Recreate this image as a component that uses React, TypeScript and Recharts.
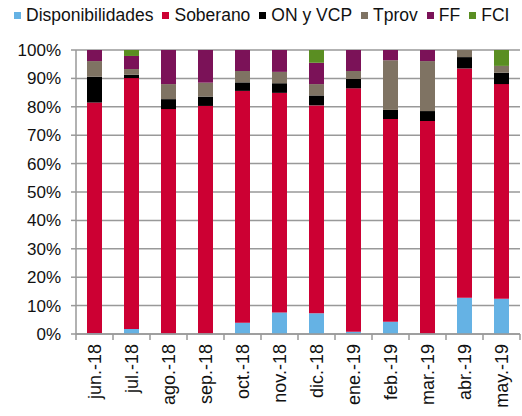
import { BarChart, Bar, XAxis, YAxis, CartesianGrid, Legend } from "recharts";

const categories = ["jun.-18", "jul.-18", "ago.-18", "sep.-18", "oct.-18", "nov.-18", "dic.-18", "ene.-19", "feb.-19", "mar.-19", "abr.-19", "may.-19"];
const disponibilidades = [0.3, 1.8, 0.2, 0.2, 4.0, 7.6, 7.3, 0.8, 4.3, 0.2, 12.8, 12.4];
const soberano = [81.2, 88.3, 79.0, 80.1, 81.6, 77.3, 73.2, 85.7, 71.4, 74.8, 80.7, 75.6];
const onVcp = [9.1, 1.2, 3.5, 3.3, 3.0, 3.4, 3.5, 3.3, 3.2, 3.5, 4.0, 4.0];
const tprov = [5.5, 2.0, 5.3, 4.9, 4.0, 4.0, 4.0, 2.8, 17.5, 17.6, 2.5, 2.4];
const ff = [3.9, 4.6, 12.0, 11.5, 7.4, 7.7, 7.5, 7.4, 3.6, 3.9, 0, 0];
const fci = [0, 2.1, 0, 0, 0, 0, 4.5, 0, 0, 0, 0, 5.6];
const yTicks = [0, 10, 20, 30, 40, 50, 60, 70, 80, 90, 100];

const data = categories.map((name, i) => ({
  name,
  disp: disponibilidades[i],
  sob: soberano[i],
  on: onVcp[i],
  tprov: tprov[i],
  ff: ff[i],
  fci: fci[i],
}));

const series = [
  { key: "disp", name: "Disponibilidades", color: "#65B2E4" },
  { key: "sob", name: "Soberano", color: "#CC0033" },
  { key: "on", name: "ON y VCP", color: "#000000" },
  { key: "tprov", name: "Tprov", color: "#7F7363" },
  { key: "ff", name: "FF", color: "#7B1258" },
  { key: "fci", name: "FCI", color: "#5A8E22" },
];
const seriesOrder = series.map((s) => s.name);

const font = "Arial, 'Liberation Sans', sans-serif";

const XTick = (props: any) => {
  const { x, y, payload, index } = props;
  const off = payload.offset || 0;
  return (
    <g>
      <line x1={x - off} y1={y - 8} x2={x - off} y2={y - 2} stroke="#999" strokeWidth={1.5} />
      {index === categories.length - 1 && (
        <line x1={x + off} y1={y - 8} x2={x + off} y2={y - 2} stroke="#999" strokeWidth={1.5} />
      )}
      <text
        x={0}
        y={0}
        transform={`translate(${x + 6},${y + 2}) rotate(-90)`}
        textAnchor="end"
        fontSize={18}
        fontFamily={font}
        fill="#111"
      >
        {payload.value}
      </text>
    </g>
  );
};

const renderLegend = (props: any) => {
  const items = [...(props.payload || [])].sort(
    (a: any, b: any) => seriesOrder.indexOf(a.value) - seriesOrder.indexOf(b.value)
  );
  return (
    <div style={{ display: "flex", alignItems: "center", fontFamily: font, fontSize: 17.5, lineHeight: "20px", color: "#111" }}>
      {items.map((p: any) => (
        <div key={p.value} style={{ display: "flex", alignItems: "center", marginRight: 9 }}>
          <span style={{ width: 7, height: 7, background: p.color, display: "inline-block", marginRight: 5 }} />
          <span>{p.value}</span>
        </div>
      ))}
    </div>
  );
};

export default function App() {
  return (
    <div style={{ position: "absolute", left: 0, top: 0, background: "#fff" }}>
      <BarChart width={522} height={416} data={data} margin={{ top: 30, right: 2, left: 0, bottom: 0 }} barSize={15}>
        <CartesianGrid vertical={false} stroke="#999" strokeWidth={1.5} />
        <XAxis
          dataKey="name"
          height={82}
          tickLine={false}
          axisLine={{ stroke: "#999", strokeWidth: 1.5 }}
          tick={<XTick />}
          interval={0}
        />
        <YAxis
          width={76}
          domain={[0, 100]}
          ticks={yTicks}
          tickFormatter={(v) => `${v}%`}
          tickSize={5}
          tickMargin={10}
          tickLine={{ stroke: "#999", strokeWidth: 1.5 }}
          axisLine={{ stroke: "#999", strokeWidth: 1.5 }}
          tick={{ fontSize: 17, fontFamily: font, fill: "#111" }}
          interval={0}
        />
        <Legend verticalAlign="top" content={renderLegend} wrapperStyle={{ top: 5, left: 14 }} />
        {series.map((s) => (
          <Bar key={s.key} dataKey={s.key} name={s.name} stackId="a" fill={s.color} isAnimationActive={false} />
        ))}
      </BarChart>
    </div>
  );
}
